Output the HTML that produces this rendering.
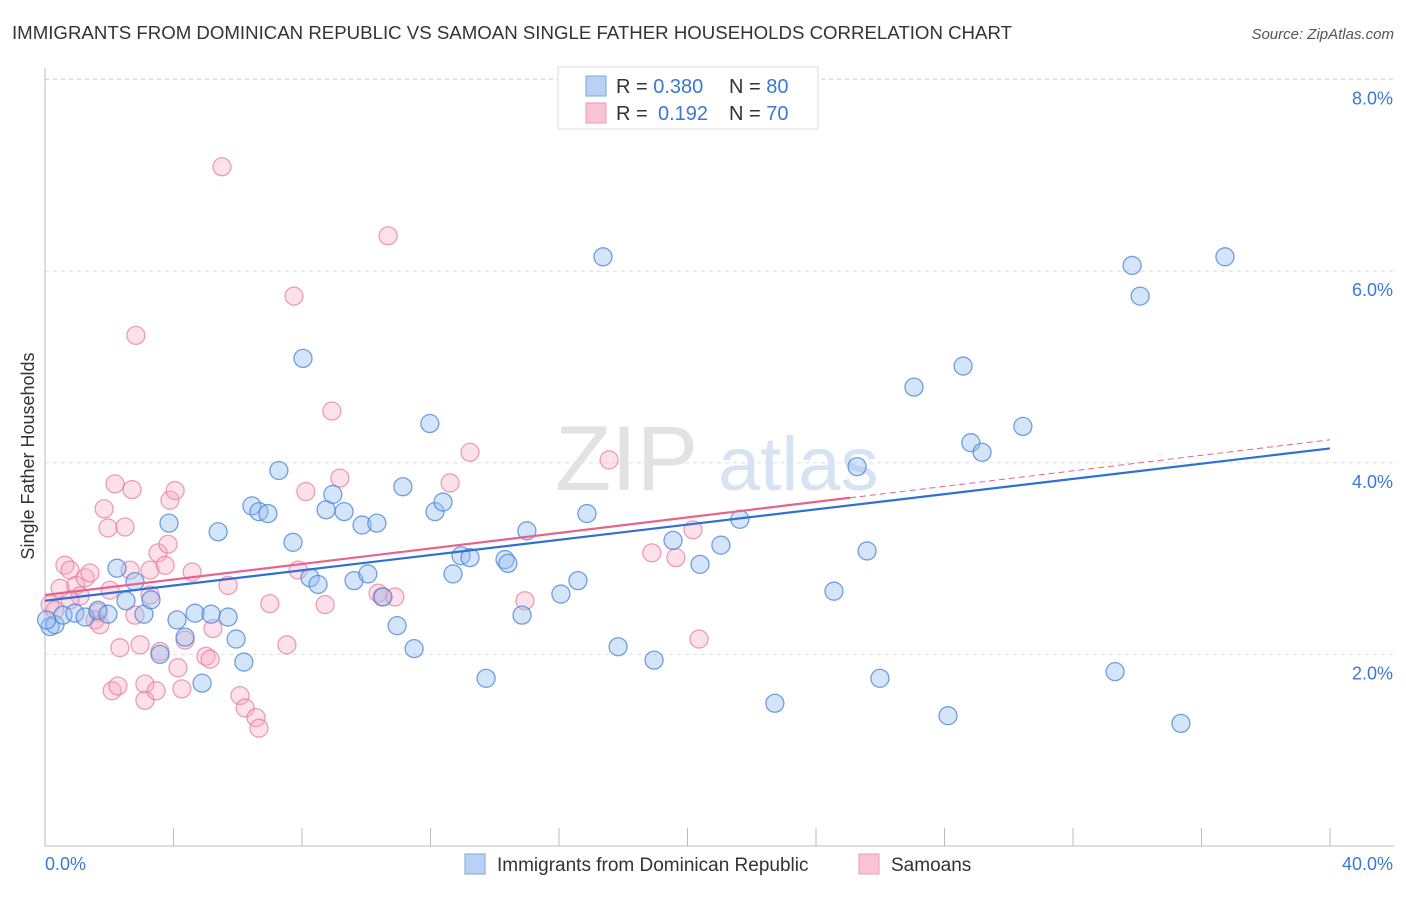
<!DOCTYPE html>
<html><head><meta charset="utf-8"><style>
body{margin:0;background:#fff;font-family:"Liberation Sans",sans-serif}
svg text{font-family:"Liberation Sans",sans-serif}
</style></head><body>
<svg id="chart" width="1406" height="892" xmlns="http://www.w3.org/2000/svg">
<text x="12" y="39" font-size="18" fill="#333" textLength="1000" lengthAdjust="spacingAndGlyphs">IMMIGRANTS FROM DOMINICAN REPUBLIC VS SAMOAN SINGLE FATHER HOUSEHOLDS CORRELATION CHART</text>
<text x="1394" y="39" font-size="15" fill="#555" text-anchor="end" font-style="italic">Source: ZipAtlas.com</text>
<g id="grid"></g>
<g><text x="555" y="490" font-size="92" fill="#e2e2e2" font-family="Liberation Serif">ZIP</text><text x="718" y="490" font-size="76" fill="#d5e3f3">atlas</text></g>
<g id="axes"></g>
<g id="pts"></g>
<g id="trend"></g>
<text transform="translate(34,456) rotate(-90)" font-size="18" fill="#333" text-anchor="middle">Single Father Households</text>
<g>
<rect x="558" y="67" width="260" height="62" fill="#fff" stroke="#ddd"/>
<rect x="586" y="76" width="20" height="20" fill="#b9d2f4" stroke="#7aa7e0"/>
<rect x="586" y="103" width="20" height="20" fill="#f9c4d3" stroke="#eb9ab2"/>
<text x="616" y="93" font-size="20" fill="#333">R = <tspan fill="#3a78d4">0.380</tspan><tspan x="729">N = </tspan><tspan fill="#3a78d4">80</tspan></text>
<text x="616" y="120" font-size="20" fill="#333">R = <tspan x="658" fill="#3a78d4">0.192</tspan><tspan x="729">N = </tspan><tspan fill="#3a78d4">70</tspan></text>
</g>
<g>
<rect x="465" y="854" width="20" height="20" fill="#b9d2f4" stroke="#7aa7e0"/>
<text x="497" y="871" font-size="19" fill="#333">Immigrants from Dominican Republic</text>
<rect x="859" y="854" width="20" height="20" fill="#f9c4d3" stroke="#eb9ab2"/>
<text x="891" y="871" font-size="19" fill="#333">Samoans</text>
</g>
</svg>
<script>
const yTicks=[2,4,6,8];
const yTickLabels=["2.0%","4.0%","6.0%","8.0%"];
const xEndLabels=["0.0%","40.0%"];
const blueX=[0.16,0.31,0.56,0.93,1.25,1.65,1.96,2.24,2.52,2.80,3.08,3.30,3.58,3.86,4.11,4.36,4.67,4.89,5.17,5.39,5.70,5.95,6.19,6.44,6.66,6.94,7.28,7.72,8.03,8.25,8.50,8.75,8.96,9.31,9.62,9.87,10.05,10.33,10.52,10.96,11.14,11.49,11.98,12.14,12.39,12.70,12.95,13.23,13.73,14.32,14.41,14.85,15.00,16.06,16.59,16.87,17.37,17.84,18.96,19.55,20.39,21.04,21.63,22.72,24.56,25.28,25.59,25.99,27.05,28.11,28.58,28.82,29.17,30.44,33.31,33.84,34.09,35.36,36.73,0.05];
const blueY=[2.29,2.31,2.41,2.43,2.39,2.46,2.42,2.90,2.56,2.76,2.42,2.57,2.00,3.37,2.36,2.18,2.43,1.70,2.42,3.28,2.39,2.16,1.92,3.55,3.49,3.47,3.92,3.17,5.09,2.80,2.73,3.51,3.67,3.49,2.77,3.35,2.84,3.37,2.60,2.30,3.75,2.06,4.41,3.49,3.59,2.84,3.03,3.01,1.75,2.99,2.95,2.41,3.29,2.63,2.77,3.47,6.15,2.08,1.94,3.19,2.94,3.14,3.41,1.49,2.66,3.96,3.08,1.75,4.79,1.36,5.01,4.21,4.11,4.38,1.82,6.06,5.74,1.28,6.15,2.36];
const pinkX=[0.16,0.31,0.47,0.62,0.78,0.96,1.09,1.25,1.40,1.65,1.84,1.96,2.09,2.18,2.27,2.33,2.49,2.65,2.71,2.83,2.96,3.11,3.11,3.27,3.46,3.52,3.58,3.74,3.83,3.89,4.05,4.14,4.26,4.36,4.58,5.01,5.14,5.23,5.51,5.70,6.07,6.23,6.57,6.66,7.00,7.53,7.75,7.88,8.12,8.72,8.93,9.18,10.37,10.49,10.68,10.89,12.61,13.23,14.94,17.56,18.89,19.64,20.17,20.36,2.02,2.80,0.78,1.56,3.27,1.71];
const pinkY=[2.52,2.46,2.69,2.93,2.88,2.72,2.61,2.80,2.85,2.44,3.52,3.32,1.62,3.78,1.67,2.07,3.33,2.88,3.72,5.33,2.10,1.69,1.52,2.88,1.62,3.06,2.03,2.93,3.15,3.61,3.71,1.86,1.64,2.15,2.86,1.98,1.95,2.27,7.09,2.72,1.57,1.44,1.34,1.23,2.53,2.10,5.74,2.88,3.70,2.52,4.54,3.84,2.64,2.60,6.37,2.60,3.79,4.11,2.56,4.03,3.06,3.01,3.30,2.16,2.67,2.41,2.57,2.36,2.62,2.31];
const blueTrend=[2.56,4.15];
const pinkTrend=[2.62,4.24];
const pinkSolidEnd=25.06;
const NS="http://www.w3.org/2000/svg";
const X0=45,X1=1330,Y0=846,PY=95.8;
const sx=v=>X0+(v/40)*(X1-X0);
const sy=v=>Y0-v*PY;
function mk(tag,attrs,parent){const e=document.createElementNS(NS,tag);for(const k in attrs)e.setAttribute(k,attrs[k]);parent.appendChild(e);return e;}
const gridG=document.getElementById('grid'),axesG=document.getElementById('axes'),ptsG=document.getElementById('pts'),trendG=document.getElementById('trend');
yTicks.forEach((t,i)=>{
 const l=mk('line',{x1:X0,x2:1394,y1:sy(t),y2:sy(t),stroke:'#ddd','stroke-dasharray':'4,4'},gridG);
 
 
 const tx=mk('text',{x:1393,y:sy(t)+25,'font-size':18,fill:'#3a78d4','text-anchor':'end'},axesG);
 tx.textContent=yTickLabels[i];
 
 
});
const topGrid=mk('line',{x1:X0,x2:1394,y1:79,y2:79,stroke:'#ddd','stroke-dasharray':'4,4'},gridG);


const ya=mk('line',{x1:X0,x2:X0,y1:68,y2:Y0,stroke:'#bbb'},axesG);


const xa=mk('line',{x1:X0,x2:1394,y1:Y0,y2:Y0,stroke:'#bbb'},axesG);


for(let i=1;i<=10;i++){
 const t=mk('line',{x1:sx(i*4),x2:sx(i*4),y1:Y0-18,y2:Y0,stroke:'#bbb'},axesG);
 
 
}
const xl0=mk('text',{x:45,y:870,'font-size':18,fill:'#3a78d4'},axesG);xl0.textContent=xEndLabels[0];


const xl1=mk('text',{x:1393,y:870,'font-size':18,fill:'#3a78d4','text-anchor':'end'},axesG);xl1.textContent=xEndLabels[1];


pinkX.forEach((v,i)=>{
 const c=mk('circle',{cx:sx(v),cy:sy(pinkY[i]),r:9,fill:'rgba(246,170,195,0.35)',stroke:'rgba(230,120,155,0.7)','stroke-width':1.3},ptsG);
 
 
});
blueX.forEach((v,i)=>{
 const c=mk('circle',{cx:sx(v),cy:sy(blueY[i]),r:9,fill:'rgba(150,190,240,0.4)',stroke:'rgba(70,130,215,0.75)','stroke-width':1.3},ptsG);
 
 
});
const bl=mk('line',{x1:sx(0),y1:sy(blueTrend[0]),x2:sx(40),y2:sy(blueTrend[1]),stroke:'#2f6fd6','stroke-width':2.2},trendG);


const pe=pinkTrend[0]+(pinkTrend[1]-pinkTrend[0])*pinkSolidEnd/40;
const pl=mk('line',{x1:sx(0),y1:sy(pinkTrend[0]),x2:sx(pinkSolidEnd),y2:sy(pe),stroke:'#e8628e','stroke-width':2.2},trendG);


const pd=mk('line',{x1:sx(pinkSolidEnd),y1:sy(pe),x2:sx(40),y2:sy(pinkTrend[1]),stroke:'#e8628e','stroke-width':1,'stroke-dasharray':'6,4'},trendG);


</script>
</body></html>
